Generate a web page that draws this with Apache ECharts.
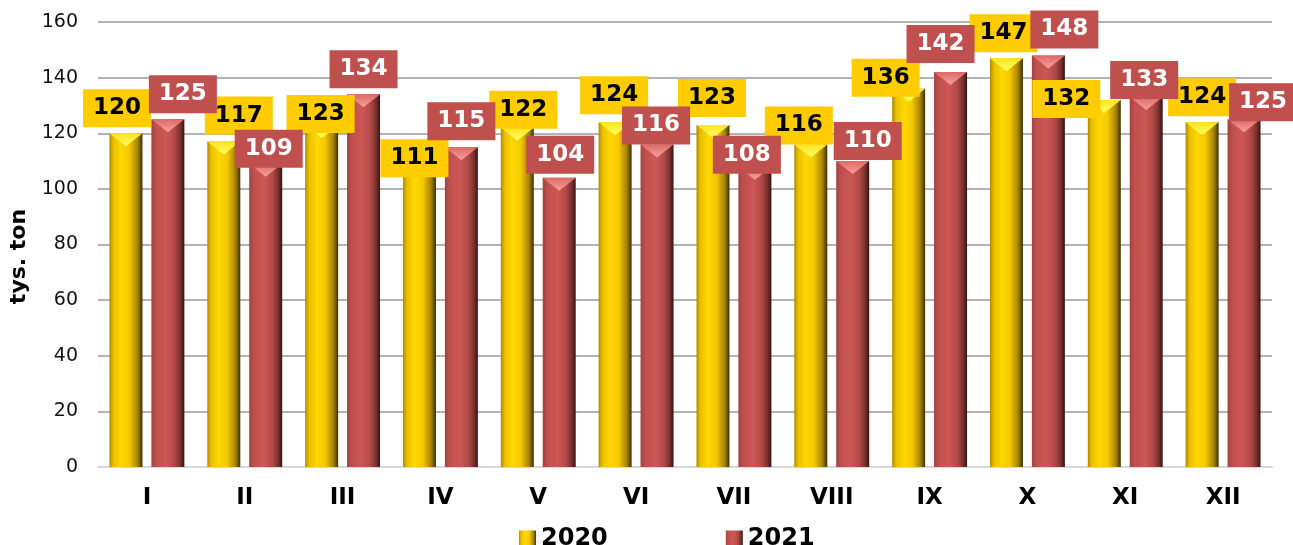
<!DOCTYPE html>
<html>
<head>
<meta charset="utf-8">
<script src="https://cdn.jsdelivr.net/npm/echarts@6/dist/echarts.min.js"></script>
<style>
  html, body { margin: 0; padding: 0; background: #fff; }
  #chart { width: 1293px; height: 545px; }
</style>
</head>
<body>
<div id="chart"></div>
<script>
const months = ['I', 'II', 'III', 'IV', 'V', 'VI', 'VII', 'VIII', 'IX', 'X', 'XI', 'XII']
const values2020 = [120, 117, 123, 111, 122, 124, 123, 116, 136, 147, 132, 124]
const values2021 = [125, 109, 134, 115, 104, 116, 108, 110, 142, 148, 133, 125]
const yTicks = { min: 0, max: 160, interval: 20 }

// label nudges (px), [dx, dy] from the bar top
const offsets2020 = [[-9, -6], [15, -7], [-1, 8], [-5, 19], [6, 1], [-1, -8], [-1, -8], [-12, 0], [-23, 8], [-3, -6], [-38, 18], [0, -6]]
const offsets2021 = [[15, -6], [3, 4], [0, -6], [0, -7], [1, -4], [-1, 0], [-8, 7], [15, -1], [-10, -9], [16, -7], [-2, 2], [19, 2]]

const FONT = '"DejaVu Sans", Verdana, sans-serif'

const gold = new echarts.graphic.LinearGradient(0, 0, 1, 0, [
  { offset: 0, color: '#b08a00' },
  { offset: 0.12, color: '#e8c000' },
  { offset: 0.35, color: '#ffd700' },
  { offset: 0.6, color: '#f5c900' },
  { offset: 0.85, color: '#a88400' },
  { offset: 1, color: '#3e3000' },
])
const red = new echarts.graphic.LinearGradient(0, 0, 1, 0, [
  { offset: 0, color: '#a3423f' },
  { offset: 0.15, color: '#c0504d' },
  { offset: 0.45, color: '#cd5754' },
  { offset: 0.7, color: '#b14a47' },
  { offset: 0.88, color: '#7a302e' },
  { offset: 1, color: '#361312' },
])
const goldTop = new echarts.graphic.LinearGradient(0, 0, 0, 1, [
  { offset: 0, color: '#ffff66' },
  { offset: 1, color: '#ffe31a' },
])
const redTop = new echarts.graphic.LinearGradient(0, 0, 0, 1, [
  { offset: 0, color: '#f7a09c' },
  { offset: 1, color: '#dc6a66' },
])

const barLabel = (bg, fg) => ({
  show: true,
  position: 'top',
  distance: 0,
  backgroundColor: bg,
  color: fg,
  fontFamily: FONT,
  fontWeight: 'bold',
  fontSize: 23,
  lineHeight: 26,
  padding: [6, 10, 6, 10],
})

const withOffsets = (vals, offs) => vals.map((v, i) => ({ value: v, label: { offset: offs[i] } }))

// bevel tip drawn on top of each bar; carries the value label so the label stays above it
const bevel = (name, vals, offs, color, bg, fg) => ({
  name,
  type: 'pictorialBar',
  data: withOffsets(vals, offs),
  symbol: 'triangle',
  symbolRotate: 180,
  symbolPosition: 'end',
  symbolSize: [33, 13],
  barWidth: 33,
  barGap: '27%',
  barCategoryGap: '23%',
  itemStyle: { color },
  label: barLabel(bg, fg),
  silent: true,
  z: 3,
})

const chart = echarts.init(document.getElementById('chart'))

chart.setOption({
  backgroundColor: '#fff',
  animation: false,
  textStyle: { fontFamily: FONT },
  grid: { left: 97, right: 21, top: 22, bottom: 78 },
  legend: {
    data: ['2020', '2021'],
    left: 514,
    top: 522,
    itemWidth: 17,
    itemHeight: 17,
    itemGap: 118,
    icon: 'rect',
    textStyle: { fontFamily: FONT, fontSize: 24, fontWeight: 'bold', color: '#000' },
  },
  xAxis: {
    type: 'category',
    data: months,
    axisLine: { lineStyle: { color: '#d9d9d9', width: 2 } },
    axisTick: { show: false },
    axisLabel: { color: '#000', fontFamily: FONT, fontSize: 23, fontWeight: 'bold', margin: 20 },
  },
  yAxis: {
    type: 'value',
    min: yTicks.min,
    max: yTicks.max,
    interval: yTicks.interval,
    name: 'tys. ton',
    nameLocation: 'middle',
    nameGap: 68,
    nameTextStyle: { color: '#000', fontFamily: FONT, fontSize: 22, fontWeight: 'bold', padding: [0, 24, 0, 0] },
    axisLine: { show: false },
    axisTick: { show: false },
    axisLabel: { color: '#111', fontFamily: FONT, fontSize: 19, margin: 20 },
    splitLine: { lineStyle: { color: '#b3b3b3', width: 2 } },
  },
  series: [
    {
      name: '2020',
      type: 'bar',
      data: values2020,
      barWidth: 33,
      barGap: '27%',
      barCategoryGap: '23%',
      itemStyle: { color: gold },
    },
    {
      name: '2021',
      type: 'bar',
      data: values2021,
      barWidth: 33,
      barGap: '27%',
      barCategoryGap: '23%',
      itemStyle: { color: red },
    },
    bevel('top2020', values2020, offsets2020, goldTop, '#ffcc00', '#000'),
    bevel('top2021', values2021, offsets2021, redTop, '#c0504d', '#fff'),
  ],
})

window.addEventListener('resize', () => chart.resize())
</script>
</body>
</html>
